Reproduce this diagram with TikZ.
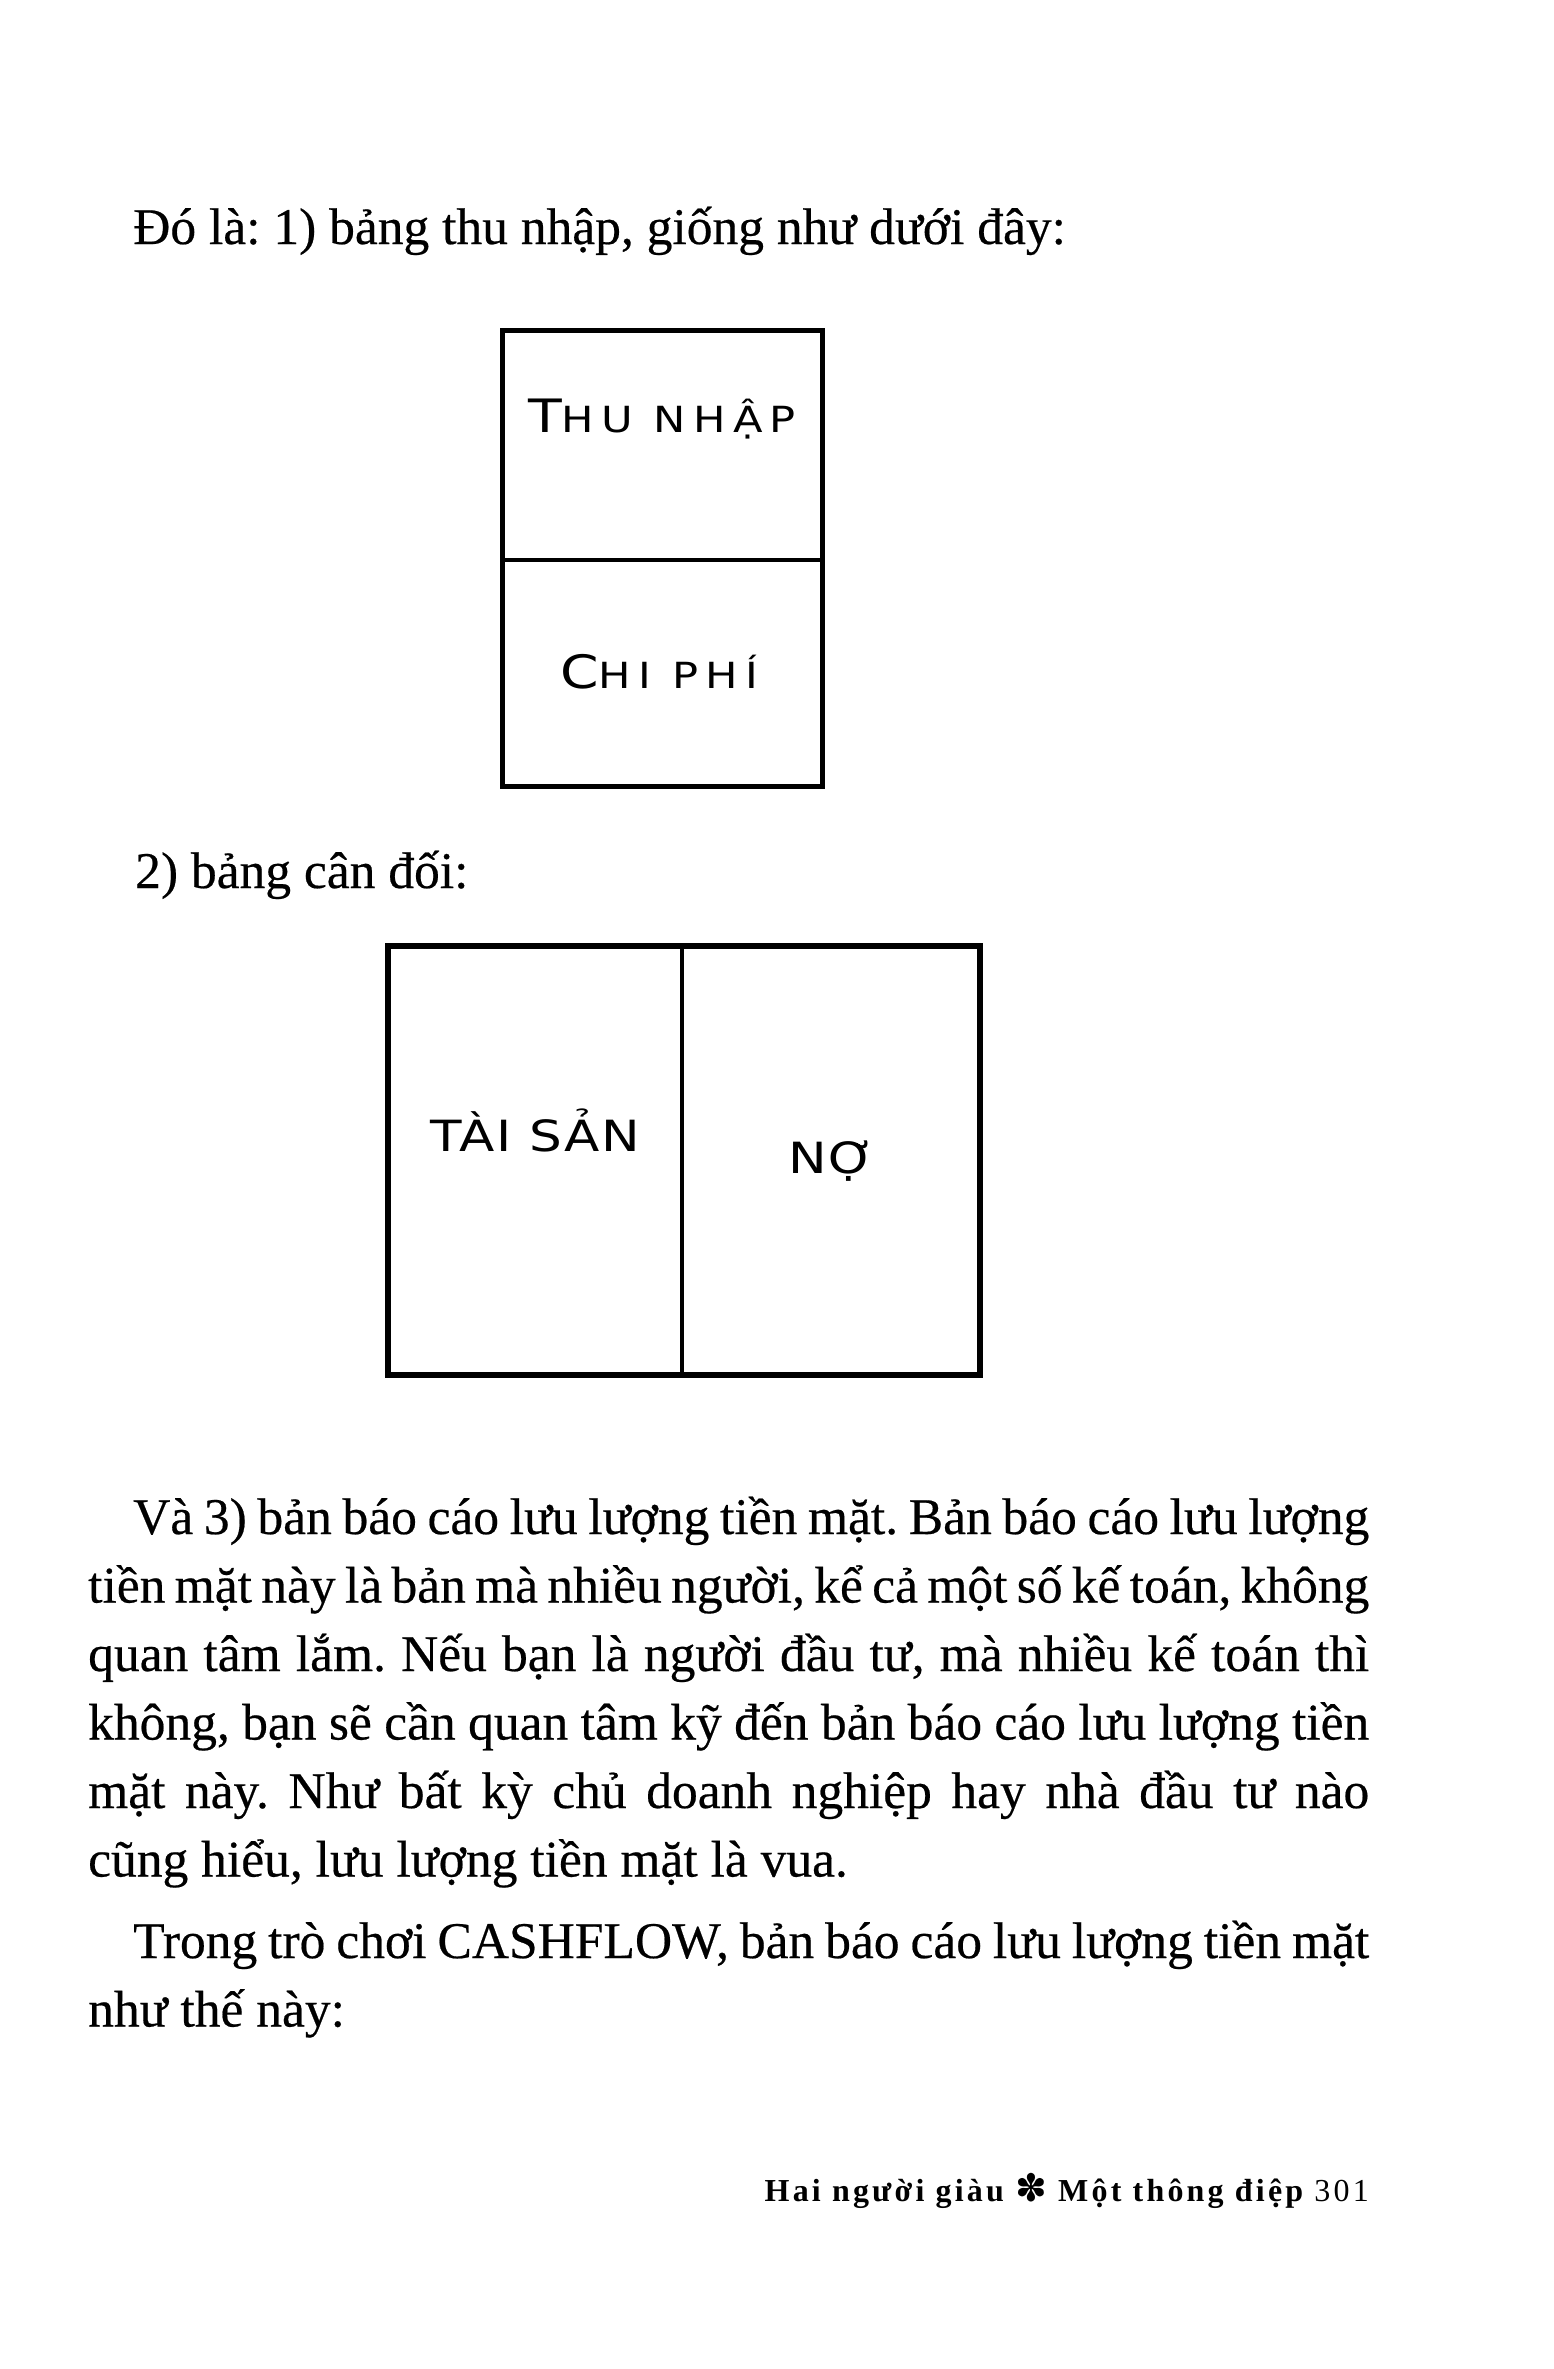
\documentclass[tikz,border=0pt]{standalone}
\usepackage{fontspec}
\setmainfont[FakeBold=0.4]{Liberation Serif}
\newfontfamily\cpgA[FakeStretch=1.2,LetterSpace=20]{DejaVu Sans}
\newfontfamily\cpgB[FakeStretch=1.2,LetterSpace=4]{DejaVu Sans}
\newfontfamily\ftfont[LetterSpace=10]{Liberation Serif}
\newfontfamily\symfont{DejaVu Sans}
\newcommand{\myBigCap}[1]{{\fontsize{46}{46}\selectfont #1}}
\newcommand{\mySmallCap}[1]{{\fontsize{36}{36}\selectfont #1}}
\frenchspacing
\begin{document}
\begin{tikzpicture}[x=1pt,y=-1pt,
  body/.style={font=\fontsize{51.5}{68.5}\selectfont, inner sep=0pt},
  outerline/.style={line width=5pt, line cap=rect},
  innerline/.style={line width=4pt},
  capA/.style={font=\cpgA, inner sep=0pt, anchor=base},
  capB/.style={font=\cpgB\fontsize{43}{43}\selectfont, inner sep=0pt, anchor=base},
  foot/.style={font=\ftfont\fontsize{32}{32}\selectfont, inner sep=0pt, anchor=base east}]
\useasboundingbox[fill=white] (0,0) rectangle (1553,2369);

% first line
\node[body, anchor=base west] (l1) at (133,244) {Đó là: 1) bảng thu nhập, giống như dưới đây:};

% income statement box
\coordinate (b1nw) at (502,330);
\coordinate (b1se) at (822,786);
\coordinate (b1ml) at (502,560);
\coordinate (b1mr) at (822,560);
\draw[outerline] (b1nw) rectangle (b1se);
\draw[innerline] (b1ml) -- (b1mr);
\node[capA] (thu) at (662,432) {\myBigCap{T}\mySmallCap{HU NHẬP}};
\node[capA] (chi) at (659,688) {\myBigCap{C}\mySmallCap{HI PHÍ}};

% second line
\node[body, anchor=base west] (l2) at (135,888) {2) bảng cân đối:};

% balance sheet box
\coordinate (b2nw) at (388,946);
\coordinate (b2se) at (980,1375);
\coordinate (b2mt) at (682,946);
\coordinate (b2mb) at (682,1375);
\draw[outerline, line width=6pt] (b2nw) rectangle (b2se);
\draw[innerline] (b2mt) -- (b2mb);
\node[capB] (ts) at (535,1151) {TÀI SẢN};
\node[capB] (no) at (832,1173) {NỢ};

% paragraph 1
\node[body, anchor=base west] (p1) at (88,1534) {\parbox[t]{1281pt}{\spaceskip=.25em plus .3em minus .1em
\hspace*{45pt}Và 3) bản báo cáo lưu lượng tiền mặt. Bản báo cáo lưu lượng\linebreak
tiền mặt này là bản mà nhiều người, kể cả một số kế toán, không\linebreak
quan tâm lắm. Nếu bạn là người đầu tư, mà nhiều kế toán thì\linebreak
không, bạn sẽ cần quan tâm kỹ đến bản báo cáo lưu lượng tiền\linebreak
mặt này. Như bất kỳ chủ doanh nghiệp hay nhà đầu tư nào\linebreak
cũng hiểu, lưu lượng tiền mặt là vua.}};

% paragraph 2
\node[body, anchor=base west] (p2) at (88,1958) {\parbox[t]{1281pt}{\spaceskip=.25em plus .3em minus .1em
\hspace*{45pt}Trong trò chơi CASHFLOW, bản báo cáo lưu lượng tiền mặt\linebreak
như thế này:}};

% footer
\node[foot] (ft) at (1369,2201) {\bfseries Hai người giàu {\symfont\mdseries\fontsize{38}{38}\selectfont ✽} Một thông điệp \mdseries 301};
\end{tikzpicture}
\end{document}
